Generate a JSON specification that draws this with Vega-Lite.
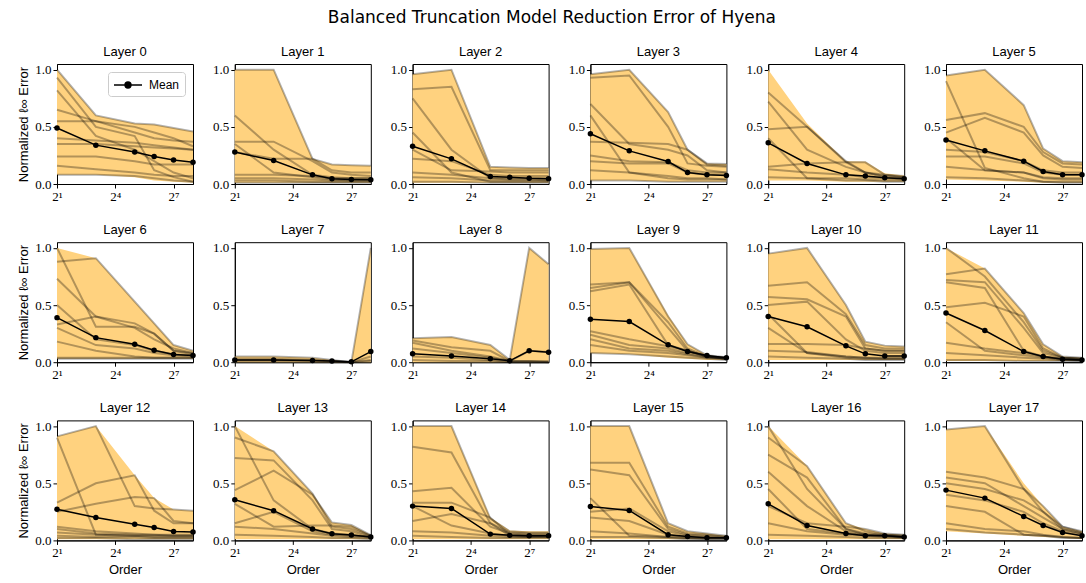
{
"$schema": "https://vega.github.io/schema/vega-lite/v6.json",
"title": {"text": "Balanced Truncation Model Reduction Error of Hyena", "font": "DejaVu Sans", "fontSize": 17, "fontWeight": "normal", "anchor": "middle", "offset": 18, "color": "black"},
"padding": {"left": 17, "right": 0, "top": 9, "bottom": 0},
"data": {"values": [
{"L":0,"k":0,"o":2,"v":1,"v2":0.08},{"L":0,"k":0,"o":8,"v":0.6,"v2":0.08},{"L":0,"k":0,"o":32,"v":0.53,"v2":0.06},{"L":0,"k":0,"o":64,"v":0.52,"v2":0.03},{"L":0,"k":0,"o":128,"v":0.49,"v2":0.02},{"L":0,"k":0,"o":256,"v":0.46,"v2":0.01},
{"L":0,"k":-1,"o":2,"v":0.49},{"L":0,"k":-1,"o":8,"v":0.34},{"L":0,"k":-1,"o":32,"v":0.28},{"L":0,"k":-1,"o":64,"v":0.24},{"L":0,"k":-1,"o":128,"v":0.21},{"L":0,"k":-1,"o":256,"v":0.19},
{"L":0,"k":1,"o":2,"v":1},{"L":0,"k":1,"o":8,"v":0.6},{"L":0,"k":1,"o":32,"v":0.53},{"L":0,"k":1,"o":64,"v":0.52},{"L":0,"k":1,"o":128,"v":0.49},{"L":0,"k":1,"o":256,"v":0.46},
{"L":0,"k":2,"o":2,"v":0.93},{"L":0,"k":2,"o":8,"v":0.5},{"L":0,"k":2,"o":32,"v":0.42},{"L":0,"k":2,"o":64,"v":0.12},{"L":0,"k":2,"o":128,"v":0.06},{"L":0,"k":2,"o":256,"v":0.02},
{"L":0,"k":3,"o":2,"v":0.82},{"L":0,"k":3,"o":8,"v":0.42},{"L":0,"k":3,"o":32,"v":0.3},{"L":0,"k":3,"o":64,"v":0.2},{"L":0,"k":3,"o":128,"v":0.1},{"L":0,"k":3,"o":256,"v":0.05},
{"L":0,"k":4,"o":2,"v":0.65},{"L":0,"k":4,"o":8,"v":0.55},{"L":0,"k":4,"o":32,"v":0.45},{"L":0,"k":4,"o":64,"v":0.4},{"L":0,"k":4,"o":128,"v":0.38},{"L":0,"k":4,"o":256,"v":0.37},
{"L":0,"k":5,"o":2,"v":0.55},{"L":0,"k":5,"o":8,"v":0.55},{"L":0,"k":5,"o":32,"v":0.5},{"L":0,"k":5,"o":64,"v":0.45},{"L":0,"k":5,"o":128,"v":0.4},{"L":0,"k":5,"o":256,"v":0.33},
{"L":0,"k":6,"o":2,"v":0.4},{"L":0,"k":6,"o":8,"v":0.38},{"L":0,"k":6,"o":32,"v":0.36},{"L":0,"k":6,"o":64,"v":0.34},{"L":0,"k":6,"o":128,"v":0.32},{"L":0,"k":6,"o":256,"v":0.3},
{"L":0,"k":7,"o":2,"v":0.35},{"L":0,"k":7,"o":8,"v":0.35},{"L":0,"k":7,"o":32,"v":0.33},{"L":0,"k":7,"o":64,"v":0.32},{"L":0,"k":7,"o":128,"v":0.31},{"L":0,"k":7,"o":256,"v":0.3},
{"L":0,"k":8,"o":2,"v":0.24},{"L":0,"k":8,"o":8,"v":0.24},{"L":0,"k":8,"o":32,"v":0.2},{"L":0,"k":8,"o":64,"v":0.17},{"L":0,"k":8,"o":128,"v":0.17},{"L":0,"k":8,"o":256,"v":0.17},
{"L":0,"k":9,"o":2,"v":0.16},{"L":0,"k":9,"o":8,"v":0.13},{"L":0,"k":9,"o":32,"v":0.1},{"L":0,"k":9,"o":64,"v":0.08},{"L":0,"k":9,"o":128,"v":0.07},{"L":0,"k":9,"o":256,"v":0.07},
{"L":0,"k":10,"o":2,"v":0.08},{"L":0,"k":10,"o":8,"v":0.08},{"L":0,"k":10,"o":32,"v":0.07},{"L":0,"k":10,"o":64,"v":0.05},{"L":0,"k":10,"o":128,"v":0.03},{"L":0,"k":10,"o":256,"v":0.02},

{"L":1,"k":0,"o":2,"v":1,"v2":0.01},{"L":1,"k":0,"o":8,"v":1,"v2":0.01},{"L":1,"k":0,"o":32,"v":0.22,"v2":0.01},{"L":1,"k":0,"o":64,"v":0.17,"v2":0.01},{"L":1,"k":0,"o":128,"v":0.165,"v2":0.01},{"L":1,"k":0,"o":256,"v":0.16,"v2":0.01},
{"L":1,"k":-1,"o":2,"v":0.28},{"L":1,"k":-1,"o":8,"v":0.205},{"L":1,"k":-1,"o":32,"v":0.08},{"L":1,"k":-1,"o":64,"v":0.046},{"L":1,"k":-1,"o":128,"v":0.04},{"L":1,"k":-1,"o":256,"v":0.037},
{"L":1,"k":1,"o":2,"v":1},{"L":1,"k":1,"o":8,"v":1},{"L":1,"k":1,"o":32,"v":0.22},{"L":1,"k":1,"o":64,"v":0.17},{"L":1,"k":1,"o":128,"v":0.165},{"L":1,"k":1,"o":256,"v":0.16},
{"L":1,"k":2,"o":2,"v":0.6},{"L":1,"k":2,"o":8,"v":0.3},{"L":1,"k":2,"o":32,"v":0.08},{"L":1,"k":2,"o":64,"v":0.06},{"L":1,"k":2,"o":128,"v":0.05},{"L":1,"k":2,"o":256,"v":0.05},
{"L":1,"k":3,"o":2,"v":0.37},{"L":1,"k":3,"o":8,"v":0.37},{"L":1,"k":3,"o":32,"v":0.2},{"L":1,"k":3,"o":64,"v":0.1},{"L":1,"k":3,"o":128,"v":0.08},{"L":1,"k":3,"o":256,"v":0.07},
{"L":1,"k":4,"o":2,"v":0.35},{"L":1,"k":4,"o":8,"v":0.1},{"L":1,"k":4,"o":32,"v":0.06},{"L":1,"k":4,"o":64,"v":0.04},{"L":1,"k":4,"o":128,"v":0.03},{"L":1,"k":4,"o":256,"v":0.03},
{"L":1,"k":5,"o":2,"v":0.28},{"L":1,"k":5,"o":8,"v":0.22},{"L":1,"k":5,"o":32,"v":0.22},{"L":1,"k":5,"o":64,"v":0.12},{"L":1,"k":5,"o":128,"v":0.1},{"L":1,"k":5,"o":256,"v":0.1},
{"L":1,"k":6,"o":2,"v":0.08},{"L":1,"k":6,"o":8,"v":0.08},{"L":1,"k":6,"o":32,"v":0.07},{"L":1,"k":6,"o":64,"v":0.05},{"L":1,"k":6,"o":128,"v":0.05},{"L":1,"k":6,"o":256,"v":0.05},
{"L":1,"k":7,"o":2,"v":0.05},{"L":1,"k":7,"o":8,"v":0.05},{"L":1,"k":7,"o":32,"v":0.04},{"L":1,"k":7,"o":64,"v":0.03},{"L":1,"k":7,"o":128,"v":0.03},{"L":1,"k":7,"o":256,"v":0.03},
{"L":1,"k":8,"o":2,"v":0.03},{"L":1,"k":8,"o":8,"v":0.03},{"L":1,"k":8,"o":32,"v":0.02},{"L":1,"k":8,"o":64,"v":0.02},{"L":1,"k":8,"o":128,"v":0.02},{"L":1,"k":8,"o":256,"v":0.02},
{"L":1,"k":9,"o":2,"v":0.01},{"L":1,"k":9,"o":8,"v":0.01},{"L":1,"k":9,"o":32,"v":0.01},{"L":1,"k":9,"o":64,"v":0.01},{"L":1,"k":9,"o":128,"v":0.01},{"L":1,"k":9,"o":256,"v":0.01},

{"L":2,"k":0,"o":2,"v":0.96,"v2":0.01},{"L":2,"k":0,"o":8,"v":1,"v2":0.01},{"L":2,"k":0,"o":32,"v":0.15,"v2":0.01},{"L":2,"k":0,"o":64,"v":0.145,"v2":0.01},{"L":2,"k":0,"o":128,"v":0.14,"v2":0.01},{"L":2,"k":0,"o":256,"v":0.14,"v2":0.01},
{"L":2,"k":-1,"o":2,"v":0.33},{"L":2,"k":-1,"o":8,"v":0.22},{"L":2,"k":-1,"o":32,"v":0.066},{"L":2,"k":-1,"o":64,"v":0.06},{"L":2,"k":-1,"o":128,"v":0.05},{"L":2,"k":-1,"o":256,"v":0.047},
{"L":2,"k":1,"o":2,"v":0.96},{"L":2,"k":1,"o":8,"v":1},{"L":2,"k":1,"o":32,"v":0.15},{"L":2,"k":1,"o":64,"v":0.145},{"L":2,"k":1,"o":128,"v":0.14},{"L":2,"k":1,"o":256,"v":0.14},
{"L":2,"k":2,"o":2,"v":0.83},{"L":2,"k":2,"o":8,"v":0.85},{"L":2,"k":2,"o":32,"v":0.12},{"L":2,"k":2,"o":64,"v":0.12},{"L":2,"k":2,"o":128,"v":0.12},{"L":2,"k":2,"o":256,"v":0.12},
{"L":2,"k":3,"o":2,"v":0.75},{"L":2,"k":3,"o":8,"v":0.3},{"L":2,"k":3,"o":32,"v":0.05},{"L":2,"k":3,"o":64,"v":0.04},{"L":2,"k":3,"o":128,"v":0.04},{"L":2,"k":3,"o":256,"v":0.03},
{"L":2,"k":4,"o":2,"v":0.45},{"L":2,"k":4,"o":8,"v":0.1},{"L":2,"k":4,"o":32,"v":0.02},{"L":2,"k":4,"o":64,"v":0.02},{"L":2,"k":4,"o":128,"v":0.02},{"L":2,"k":4,"o":256,"v":0.02},
{"L":2,"k":5,"o":2,"v":0.3},{"L":2,"k":5,"o":8,"v":0.12},{"L":2,"k":5,"o":32,"v":0.11},{"L":2,"k":5,"o":64,"v":0.1},{"L":2,"k":5,"o":128,"v":0.1},{"L":2,"k":5,"o":256,"v":0.1},
{"L":2,"k":6,"o":2,"v":0.22},{"L":2,"k":6,"o":8,"v":0.2},{"L":2,"k":6,"o":32,"v":0.08},{"L":2,"k":6,"o":64,"v":0.07},{"L":2,"k":6,"o":128,"v":0.07},{"L":2,"k":6,"o":256,"v":0.07},
{"L":2,"k":7,"o":2,"v":0.1},{"L":2,"k":7,"o":8,"v":0.08},{"L":2,"k":7,"o":32,"v":0.05},{"L":2,"k":7,"o":64,"v":0.05},{"L":2,"k":7,"o":128,"v":0.05},{"L":2,"k":7,"o":256,"v":0.05},
{"L":2,"k":8,"o":2,"v":0.06},{"L":2,"k":8,"o":8,"v":0.05},{"L":2,"k":8,"o":32,"v":0.03},{"L":2,"k":8,"o":64,"v":0.03},{"L":2,"k":8,"o":128,"v":0.03},{"L":2,"k":8,"o":256,"v":0.03},
{"L":2,"k":9,"o":2,"v":0.02},{"L":2,"k":9,"o":8,"v":0.02},{"L":2,"k":9,"o":32,"v":0.01},{"L":2,"k":9,"o":64,"v":0.01},{"L":2,"k":9,"o":128,"v":0.01},{"L":2,"k":9,"o":256,"v":0.01},

{"L":3,"k":0,"o":2,"v":0.96,"v2":0.03},{"L":3,"k":0,"o":8,"v":1,"v2":0.03},{"L":3,"k":0,"o":32,"v":0.63,"v2":0.02},{"L":3,"k":0,"o":64,"v":0.3,"v2":0.02},{"L":3,"k":0,"o":128,"v":0.18,"v2":0.02},{"L":3,"k":0,"o":256,"v":0.175,"v2":0.02},
{"L":3,"k":-1,"o":2,"v":0.44},{"L":3,"k":-1,"o":8,"v":0.29},{"L":3,"k":-1,"o":32,"v":0.197},{"L":3,"k":-1,"o":64,"v":0.1},{"L":3,"k":-1,"o":128,"v":0.08},{"L":3,"k":-1,"o":256,"v":0.075},
{"L":3,"k":1,"o":2,"v":0.96},{"L":3,"k":1,"o":8,"v":1},{"L":3,"k":1,"o":32,"v":0.63},{"L":3,"k":1,"o":64,"v":0.3},{"L":3,"k":1,"o":128,"v":0.18},{"L":3,"k":1,"o":256,"v":0.175},
{"L":3,"k":2,"o":2,"v":0.93},{"L":3,"k":2,"o":8,"v":0.95},{"L":3,"k":2,"o":32,"v":0.5},{"L":3,"k":2,"o":64,"v":0.18},{"L":3,"k":2,"o":128,"v":0.16},{"L":3,"k":2,"o":256,"v":0.15},
{"L":3,"k":3,"o":2,"v":0.7},{"L":3,"k":3,"o":8,"v":0.35},{"L":3,"k":3,"o":32,"v":0.3},{"L":3,"k":3,"o":64,"v":0.25},{"L":3,"k":3,"o":128,"v":0.12},{"L":3,"k":3,"o":256,"v":0.1},
{"L":3,"k":4,"o":2,"v":0.6},{"L":3,"k":4,"o":8,"v":0.1},{"L":3,"k":4,"o":32,"v":0.07},{"L":3,"k":4,"o":64,"v":0.05},{"L":3,"k":4,"o":128,"v":0.05},{"L":3,"k":4,"o":256,"v":0.04},
{"L":3,"k":5,"o":2,"v":0.37},{"L":3,"k":5,"o":8,"v":0.36},{"L":3,"k":5,"o":32,"v":0.35},{"L":3,"k":5,"o":64,"v":0.3},{"L":3,"k":5,"o":128,"v":0.17},{"L":3,"k":5,"o":256,"v":0.16},
{"L":3,"k":6,"o":2,"v":0.25},{"L":3,"k":6,"o":8,"v":0.2},{"L":3,"k":6,"o":32,"v":0.19},{"L":3,"k":6,"o":64,"v":0.12},{"L":3,"k":6,"o":128,"v":0.1},{"L":3,"k":6,"o":256,"v":0.1},
{"L":3,"k":7,"o":2,"v":0.2},{"L":3,"k":7,"o":8,"v":0.18},{"L":3,"k":7,"o":32,"v":0.18},{"L":3,"k":7,"o":64,"v":0.1},{"L":3,"k":7,"o":128,"v":0.08},{"L":3,"k":7,"o":256,"v":0.08},
{"L":3,"k":8,"o":2,"v":0.12},{"L":3,"k":8,"o":8,"v":0.1},{"L":3,"k":8,"o":32,"v":0.05},{"L":3,"k":8,"o":64,"v":0.04},{"L":3,"k":8,"o":128,"v":0.04},{"L":3,"k":8,"o":256,"v":0.04},
{"L":3,"k":9,"o":2,"v":0.03},{"L":3,"k":9,"o":8,"v":0.03},{"L":3,"k":9,"o":32,"v":0.02},{"L":3,"k":9,"o":64,"v":0.02},{"L":3,"k":9,"o":128,"v":0.02},{"L":3,"k":9,"o":256,"v":0.02},

{"L":4,"k":0,"o":2,"v":1,"v2":0.03},{"L":4,"k":0,"o":8,"v":0.53,"v2":0.03},{"L":4,"k":0,"o":32,"v":0.2,"v2":0.02},{"L":4,"k":0,"o":64,"v":0.197,"v2":0.02},{"L":4,"k":0,"o":128,"v":0.095,"v2":0.02},{"L":4,"k":0,"o":256,"v":0.075,"v2":0.02},
{"L":4,"k":-1,"o":2,"v":0.36},{"L":4,"k":-1,"o":8,"v":0.18},{"L":4,"k":-1,"o":32,"v":0.08},{"L":4,"k":-1,"o":64,"v":0.07},{"L":4,"k":-1,"o":128,"v":0.055},{"L":4,"k":-1,"o":256,"v":0.046},
{"L":4,"k":1,"o":2,"v":0.8},{"L":4,"k":1,"o":8,"v":0.5},{"L":4,"k":1,"o":32,"v":0.2},{"L":4,"k":1,"o":64,"v":0.1},{"L":4,"k":1,"o":128,"v":0.06},{"L":4,"k":1,"o":256,"v":0.05},
{"L":4,"k":2,"o":2,"v":0.72},{"L":4,"k":2,"o":8,"v":0.3},{"L":4,"k":2,"o":32,"v":0.15},{"L":4,"k":2,"o":64,"v":0.1},{"L":4,"k":2,"o":128,"v":0.08},{"L":4,"k":2,"o":256,"v":0.06},
{"L":4,"k":3,"o":2,"v":0.48},{"L":4,"k":3,"o":8,"v":0.5},{"L":4,"k":3,"o":32,"v":0.19},{"L":4,"k":3,"o":64,"v":0.1},{"L":4,"k":3,"o":128,"v":0.07},{"L":4,"k":3,"o":256,"v":0.06},
{"L":4,"k":4,"o":2,"v":0.15},{"L":4,"k":4,"o":8,"v":0.18},{"L":4,"k":4,"o":32,"v":0.19},{"L":4,"k":4,"o":64,"v":0.19},{"L":4,"k":4,"o":128,"v":0.08},{"L":4,"k":4,"o":256,"v":0.07},
{"L":4,"k":5,"o":2,"v":0.13},{"L":4,"k":5,"o":8,"v":0.1},{"L":4,"k":5,"o":32,"v":0.08},{"L":4,"k":5,"o":64,"v":0.06},{"L":4,"k":5,"o":128,"v":0.05},{"L":4,"k":5,"o":256,"v":0.04},
{"L":4,"k":6,"o":2,"v":0.06},{"L":4,"k":6,"o":8,"v":0.05},{"L":4,"k":6,"o":32,"v":0.05},{"L":4,"k":6,"o":64,"v":0.04},{"L":4,"k":6,"o":128,"v":0.03},{"L":4,"k":6,"o":256,"v":0.03},
{"L":4,"k":7,"o":2,"v":0.4},{"L":4,"k":7,"o":8,"v":0.05},{"L":4,"k":7,"o":32,"v":0.03},{"L":4,"k":7,"o":64,"v":0.03},{"L":4,"k":7,"o":128,"v":0.02},{"L":4,"k":7,"o":256,"v":0.02},

{"L":5,"k":0,"o":2,"v":0.95,"v2":0.04},{"L":5,"k":0,"o":8,"v":1,"v2":0.03},{"L":5,"k":0,"o":32,"v":0.69,"v2":0.02},{"L":5,"k":0,"o":64,"v":0.31,"v2":0.01},{"L":5,"k":0,"o":128,"v":0.2,"v2":0.01},{"L":5,"k":0,"o":256,"v":0.19,"v2":0.01},
{"L":5,"k":-1,"o":2,"v":0.385},{"L":5,"k":-1,"o":8,"v":0.29},{"L":5,"k":-1,"o":32,"v":0.2},{"L":5,"k":-1,"o":64,"v":0.11},{"L":5,"k":-1,"o":128,"v":0.08},{"L":5,"k":-1,"o":256,"v":0.08},
{"L":5,"k":1,"o":2,"v":0.95},{"L":5,"k":1,"o":8,"v":1},{"L":5,"k":1,"o":32,"v":0.69},{"L":5,"k":1,"o":64,"v":0.31},{"L":5,"k":1,"o":128,"v":0.2},{"L":5,"k":1,"o":256,"v":0.19},
{"L":5,"k":2,"o":2,"v":0.56},{"L":5,"k":2,"o":8,"v":0.62},{"L":5,"k":2,"o":32,"v":0.5},{"L":5,"k":2,"o":64,"v":0.28},{"L":5,"k":2,"o":128,"v":0.18},{"L":5,"k":2,"o":256,"v":0.17},
{"L":5,"k":3,"o":2,"v":0.45},{"L":5,"k":3,"o":8,"v":0.58},{"L":5,"k":3,"o":32,"v":0.45},{"L":5,"k":3,"o":64,"v":0.25},{"L":5,"k":3,"o":128,"v":0.15},{"L":5,"k":3,"o":256,"v":0.14},
{"L":5,"k":4,"o":2,"v":0.4},{"L":5,"k":4,"o":8,"v":0.12},{"L":5,"k":4,"o":32,"v":0.1},{"L":5,"k":4,"o":64,"v":0.05},{"L":5,"k":4,"o":128,"v":0.04},{"L":5,"k":4,"o":256,"v":0.04},
{"L":5,"k":5,"o":2,"v":0.3},{"L":5,"k":5,"o":8,"v":0.28},{"L":5,"k":5,"o":32,"v":0.2},{"L":5,"k":5,"o":64,"v":0.12},{"L":5,"k":5,"o":128,"v":0.1},{"L":5,"k":5,"o":256,"v":0.1},
{"L":5,"k":6,"o":2,"v":0.24},{"L":5,"k":6,"o":8,"v":0.24},{"L":5,"k":6,"o":32,"v":0.18},{"L":5,"k":6,"o":64,"v":0.1},{"L":5,"k":6,"o":128,"v":0.08},{"L":5,"k":6,"o":256,"v":0.08},
{"L":5,"k":7,"o":2,"v":0.15},{"L":5,"k":7,"o":8,"v":0.12},{"L":5,"k":7,"o":32,"v":0.1},{"L":5,"k":7,"o":64,"v":0.06},{"L":5,"k":7,"o":128,"v":0.05},{"L":5,"k":7,"o":256,"v":0.05},
{"L":5,"k":8,"o":2,"v":0.06},{"L":5,"k":8,"o":8,"v":0.05},{"L":5,"k":8,"o":32,"v":0.03},{"L":5,"k":8,"o":64,"v":0.02},{"L":5,"k":8,"o":128,"v":0.02},{"L":5,"k":8,"o":256,"v":0.02},
{"L":5,"k":9,"o":2,"v":0.9},{"L":5,"k":9,"o":8,"v":0.14},{"L":5,"k":9,"o":32,"v":0.05},{"L":5,"k":9,"o":64,"v":0.02},{"L":5,"k":9,"o":128,"v":0.01},{"L":5,"k":9,"o":256,"v":0.01},

{"L":6,"k":0,"o":2,"v":1,"v2":0.03},{"L":6,"k":0,"o":8,"v":0.91,"v2":0.03},{"L":6,"k":0,"o":32,"v":0.53,"v2":0.03},{"L":6,"k":0,"o":64,"v":0.34,"v2":0.03},{"L":6,"k":0,"o":128,"v":0.15,"v2":0.03},{"L":6,"k":0,"o":256,"v":0.1,"v2":0.03},
{"L":6,"k":-1,"o":2,"v":0.39},{"L":6,"k":-1,"o":8,"v":0.215},{"L":6,"k":-1,"o":32,"v":0.157},{"L":6,"k":-1,"o":64,"v":0.105},{"L":6,"k":-1,"o":128,"v":0.067},{"L":6,"k":-1,"o":256,"v":0.058},
{"L":6,"k":1,"o":2,"v":0.88},{"L":6,"k":1,"o":8,"v":0.91},{"L":6,"k":1,"o":32,"v":0.53},{"L":6,"k":1,"o":64,"v":0.34},{"L":6,"k":1,"o":128,"v":0.15},{"L":6,"k":1,"o":256,"v":0.1},
{"L":6,"k":2,"o":2,"v":1},{"L":6,"k":2,"o":8,"v":0.31},{"L":6,"k":2,"o":32,"v":0.31},{"L":6,"k":2,"o":64,"v":0.25},{"L":6,"k":2,"o":128,"v":0.1},{"L":6,"k":2,"o":256,"v":0.08},
{"L":6,"k":3,"o":2,"v":0.73},{"L":6,"k":3,"o":8,"v":0.4},{"L":6,"k":3,"o":32,"v":0.3},{"L":6,"k":3,"o":64,"v":0.2},{"L":6,"k":3,"o":128,"v":0.12},{"L":6,"k":3,"o":256,"v":0.08},
{"L":6,"k":4,"o":2,"v":0.5},{"L":6,"k":4,"o":8,"v":0.2},{"L":6,"k":4,"o":32,"v":0.15},{"L":6,"k":4,"o":64,"v":0.1},{"L":6,"k":4,"o":128,"v":0.07},{"L":6,"k":4,"o":256,"v":0.06},
{"L":6,"k":5,"o":2,"v":0.33},{"L":6,"k":5,"o":8,"v":0.4},{"L":6,"k":5,"o":32,"v":0.34},{"L":6,"k":5,"o":64,"v":0.25},{"L":6,"k":5,"o":128,"v":0.1},{"L":6,"k":5,"o":256,"v":0.07},
{"L":6,"k":6,"o":2,"v":0.3},{"L":6,"k":6,"o":8,"v":0.15},{"L":6,"k":6,"o":32,"v":0.12},{"L":6,"k":6,"o":64,"v":0.08},{"L":6,"k":6,"o":128,"v":0.06},{"L":6,"k":6,"o":256,"v":0.05},
{"L":6,"k":7,"o":2,"v":0.18},{"L":6,"k":7,"o":8,"v":0.1},{"L":6,"k":7,"o":32,"v":0.05},{"L":6,"k":7,"o":64,"v":0.04},{"L":6,"k":7,"o":128,"v":0.04},{"L":6,"k":7,"o":256,"v":0.04},
{"L":6,"k":8,"o":2,"v":0.04},{"L":6,"k":8,"o":8,"v":0.04},{"L":6,"k":8,"o":32,"v":0.04},{"L":6,"k":8,"o":64,"v":0.04},{"L":6,"k":8,"o":128,"v":0.04},{"L":6,"k":8,"o":256,"v":0.04},
{"L":6,"k":9,"o":2,"v":0.03},{"L":6,"k":9,"o":8,"v":0.03},{"L":6,"k":9,"o":32,"v":0.03},{"L":6,"k":9,"o":64,"v":0.03},{"L":6,"k":9,"o":128,"v":0.03},{"L":6,"k":9,"o":256,"v":0.03},

{"L":7,"k":0,"o":2,"v":0.05,"v2":0},{"L":7,"k":0,"o":8,"v":0.05,"v2":0},{"L":7,"k":0,"o":32,"v":0.04,"v2":0},{"L":7,"k":0,"o":64,"v":0.02,"v2":0},{"L":7,"k":0,"o":128,"v":0.0,"v2":0},{"L":7,"k":0,"o":256,"v":1,"v2":0},
{"L":7,"k":-1,"o":2,"v":0.02},{"L":7,"k":-1,"o":8,"v":0.02},{"L":7,"k":-1,"o":32,"v":0.015},{"L":7,"k":-1,"o":64,"v":0.01},{"L":7,"k":-1,"o":128,"v":0.003},{"L":7,"k":-1,"o":256,"v":0.093},
{"L":7,"k":1,"o":2,"v":0.05},{"L":7,"k":1,"o":8,"v":0.05},{"L":7,"k":1,"o":32,"v":0.04},{"L":7,"k":1,"o":64,"v":0.02},{"L":7,"k":1,"o":128,"v":0.0},{"L":7,"k":1,"o":256,"v":1},
{"L":7,"k":2,"o":2,"v":0.03},{"L":7,"k":2,"o":8,"v":0.03},{"L":7,"k":2,"o":32,"v":0.02},{"L":7,"k":2,"o":64,"v":0.01},{"L":7,"k":2,"o":128,"v":0.0},{"L":7,"k":2,"o":256,"v":0.05},
{"L":7,"k":3,"o":2,"v":0.02},{"L":7,"k":3,"o":8,"v":0.02},{"L":7,"k":3,"o":32,"v":0.015},{"L":7,"k":3,"o":64,"v":0.01},{"L":7,"k":3,"o":128,"v":0.0},{"L":7,"k":3,"o":256,"v":0.02},
{"L":7,"k":4,"o":2,"v":0.01},{"L":7,"k":4,"o":8,"v":0.01},{"L":7,"k":4,"o":32,"v":0.01},{"L":7,"k":4,"o":64,"v":0.005},{"L":7,"k":4,"o":128,"v":0.0},{"L":7,"k":4,"o":256,"v":0.01},

{"L":8,"k":0,"o":2,"v":0.21,"v2":0},{"L":8,"k":0,"o":8,"v":0.22,"v2":0},{"L":8,"k":0,"o":32,"v":0.15,"v2":0},{"L":8,"k":0,"o":64,"v":0.02,"v2":0},{"L":8,"k":0,"o":128,"v":1,"v2":0},{"L":8,"k":0,"o":256,"v":0.857,"v2":0},
{"L":8,"k":-1,"o":2,"v":0.073},{"L":8,"k":-1,"o":8,"v":0.055},{"L":8,"k":-1,"o":32,"v":0.03},{"L":8,"k":-1,"o":64,"v":0.012},{"L":8,"k":-1,"o":128,"v":0.1},{"L":8,"k":-1,"o":256,"v":0.087},
{"L":8,"k":1,"o":2,"v":0.21},{"L":8,"k":1,"o":8,"v":0.22},{"L":8,"k":1,"o":32,"v":0.15},{"L":8,"k":1,"o":64,"v":0.02},{"L":8,"k":1,"o":128,"v":1},{"L":8,"k":1,"o":256,"v":0.857},
{"L":8,"k":2,"o":2,"v":0.19},{"L":8,"k":2,"o":8,"v":0.13},{"L":8,"k":2,"o":32,"v":0.1},{"L":8,"k":2,"o":64,"v":0.01},{"L":8,"k":2,"o":128,"v":0.1},{"L":8,"k":2,"o":256,"v":0.09},
{"L":8,"k":3,"o":2,"v":0.17},{"L":8,"k":3,"o":8,"v":0.1},{"L":8,"k":3,"o":32,"v":0.05},{"L":8,"k":3,"o":64,"v":0.01},{"L":8,"k":3,"o":128,"v":0.01},{"L":8,"k":3,"o":256,"v":0.01},
{"L":8,"k":4,"o":2,"v":0.12},{"L":8,"k":4,"o":8,"v":0.08},{"L":8,"k":4,"o":32,"v":0.04},{"L":8,"k":4,"o":64,"v":0.01},{"L":8,"k":4,"o":128,"v":0.01},{"L":8,"k":4,"o":256,"v":0.0},
{"L":8,"k":5,"o":2,"v":0.05},{"L":8,"k":5,"o":8,"v":0.04},{"L":8,"k":5,"o":32,"v":0.02},{"L":8,"k":5,"o":64,"v":0.0},{"L":8,"k":5,"o":128,"v":0.0},{"L":8,"k":5,"o":256,"v":0.0},
{"L":8,"k":6,"o":2,"v":0.02},{"L":8,"k":6,"o":8,"v":0.01},{"L":8,"k":6,"o":32,"v":0.01},{"L":8,"k":6,"o":64,"v":0.0},{"L":8,"k":6,"o":128,"v":0.0},{"L":8,"k":6,"o":256,"v":0.0},

{"L":9,"k":0,"o":2,"v":0.99,"v2":0.078},{"L":9,"k":0,"o":8,"v":1,"v2":0.07},{"L":9,"k":0,"o":32,"v":0.41,"v2":0.04},{"L":9,"k":0,"o":64,"v":0.157,"v2":0.03},{"L":9,"k":0,"o":128,"v":0.06,"v2":0.02},{"L":9,"k":0,"o":256,"v":0.044,"v2":0.02},
{"L":9,"k":-1,"o":2,"v":0.376},{"L":9,"k":-1,"o":8,"v":0.356},{"L":9,"k":-1,"o":32,"v":0.152},{"L":9,"k":-1,"o":64,"v":0.093},{"L":9,"k":-1,"o":128,"v":0.058},{"L":9,"k":-1,"o":256,"v":0.04},
{"L":9,"k":1,"o":2,"v":0.99},{"L":9,"k":1,"o":8,"v":1},{"L":9,"k":1,"o":32,"v":0.4},{"L":9,"k":1,"o":64,"v":0.157},{"L":9,"k":1,"o":128,"v":0.06},{"L":9,"k":1,"o":256,"v":0.044},
{"L":9,"k":2,"o":2,"v":0.68},{"L":9,"k":2,"o":8,"v":0.7},{"L":9,"k":2,"o":32,"v":0.35},{"L":9,"k":2,"o":64,"v":0.12},{"L":9,"k":2,"o":128,"v":0.05},{"L":9,"k":2,"o":256,"v":0.04},
{"L":9,"k":3,"o":2,"v":0.65},{"L":9,"k":3,"o":8,"v":0.7},{"L":9,"k":3,"o":32,"v":0.3},{"L":9,"k":3,"o":64,"v":0.1},{"L":9,"k":3,"o":128,"v":0.05},{"L":9,"k":3,"o":256,"v":0.04},
{"L":9,"k":4,"o":2,"v":0.62},{"L":9,"k":4,"o":8,"v":0.68},{"L":9,"k":4,"o":32,"v":0.15},{"L":9,"k":4,"o":64,"v":0.1},{"L":9,"k":4,"o":128,"v":0.05},{"L":9,"k":4,"o":256,"v":0.03},
{"L":9,"k":5,"o":2,"v":0.27},{"L":9,"k":5,"o":8,"v":0.2},{"L":9,"k":5,"o":32,"v":0.14},{"L":9,"k":5,"o":64,"v":0.1},{"L":9,"k":5,"o":128,"v":0.05},{"L":9,"k":5,"o":256,"v":0.03},
{"L":9,"k":6,"o":2,"v":0.24},{"L":9,"k":6,"o":8,"v":0.15},{"L":9,"k":6,"o":32,"v":0.12},{"L":9,"k":6,"o":64,"v":0.08},{"L":9,"k":6,"o":128,"v":0.05},{"L":9,"k":6,"o":256,"v":0.03},
{"L":9,"k":7,"o":2,"v":0.2},{"L":9,"k":7,"o":8,"v":0.12},{"L":9,"k":7,"o":32,"v":0.1},{"L":9,"k":7,"o":64,"v":0.07},{"L":9,"k":7,"o":128,"v":0.04},{"L":9,"k":7,"o":256,"v":0.03},
{"L":9,"k":8,"o":2,"v":0.15},{"L":9,"k":8,"o":8,"v":0.1},{"L":9,"k":8,"o":32,"v":0.08},{"L":9,"k":8,"o":64,"v":0.06},{"L":9,"k":8,"o":128,"v":0.04},{"L":9,"k":8,"o":256,"v":0.03},
{"L":9,"k":9,"o":2,"v":0.08},{"L":9,"k":9,"o":8,"v":0.07},{"L":9,"k":9,"o":32,"v":0.05},{"L":9,"k":9,"o":64,"v":0.04},{"L":9,"k":9,"o":128,"v":0.03},{"L":9,"k":9,"o":256,"v":0.02},

{"L":10,"k":0,"o":2,"v":0.95,"v2":0.02},{"L":10,"k":0,"o":8,"v":1,"v2":0.02},{"L":10,"k":0,"o":32,"v":0.5,"v2":0.02},{"L":10,"k":0,"o":64,"v":0.18,"v2":0.02},{"L":10,"k":0,"o":128,"v":0.145,"v2":0.02},{"L":10,"k":0,"o":256,"v":0.137,"v2":0.02},
{"L":10,"k":-1,"o":2,"v":0.4},{"L":10,"k":-1,"o":8,"v":0.31},{"L":10,"k":-1,"o":32,"v":0.143},{"L":10,"k":-1,"o":64,"v":0.073},{"L":10,"k":-1,"o":128,"v":0.055},{"L":10,"k":-1,"o":256,"v":0.055},
{"L":10,"k":1,"o":2,"v":0.95},{"L":10,"k":1,"o":8,"v":1},{"L":10,"k":1,"o":32,"v":0.5},{"L":10,"k":1,"o":64,"v":0.18},{"L":10,"k":1,"o":128,"v":0.145},{"L":10,"k":1,"o":256,"v":0.137},
{"L":10,"k":2,"o":2,"v":0.67},{"L":10,"k":2,"o":8,"v":0.7},{"L":10,"k":2,"o":32,"v":0.42},{"L":10,"k":2,"o":64,"v":0.15},{"L":10,"k":2,"o":128,"v":0.12},{"L":10,"k":2,"o":256,"v":0.12},
{"L":10,"k":3,"o":2,"v":0.57},{"L":10,"k":3,"o":8,"v":0.55},{"L":10,"k":3,"o":32,"v":0.4},{"L":10,"k":3,"o":64,"v":0.12},{"L":10,"k":3,"o":128,"v":0.1},{"L":10,"k":3,"o":256,"v":0.1},
{"L":10,"k":4,"o":2,"v":0.5},{"L":10,"k":4,"o":8,"v":0.53},{"L":10,"k":4,"o":32,"v":0.2},{"L":10,"k":4,"o":64,"v":0.1},{"L":10,"k":4,"o":128,"v":0.08},{"L":10,"k":4,"o":256,"v":0.08},
{"L":10,"k":5,"o":2,"v":0.42},{"L":10,"k":5,"o":8,"v":0.08},{"L":10,"k":5,"o":32,"v":0.05},{"L":10,"k":5,"o":64,"v":0.04},{"L":10,"k":5,"o":128,"v":0.03},{"L":10,"k":5,"o":256,"v":0.03},
{"L":10,"k":6,"o":2,"v":0.3},{"L":10,"k":6,"o":8,"v":0.08},{"L":10,"k":6,"o":32,"v":0.04},{"L":10,"k":6,"o":64,"v":0.03},{"L":10,"k":6,"o":128,"v":0.03},{"L":10,"k":6,"o":256,"v":0.03},
{"L":10,"k":7,"o":2,"v":0.16},{"L":10,"k":7,"o":8,"v":0.16},{"L":10,"k":7,"o":32,"v":0.15},{"L":10,"k":7,"o":64,"v":0.12},{"L":10,"k":7,"o":128,"v":0.1},{"L":10,"k":7,"o":256,"v":0.1},
{"L":10,"k":8,"o":2,"v":0.1},{"L":10,"k":8,"o":8,"v":0.09},{"L":10,"k":8,"o":32,"v":0.05},{"L":10,"k":8,"o":64,"v":0.04},{"L":10,"k":8,"o":128,"v":0.04},{"L":10,"k":8,"o":256,"v":0.04},
{"L":10,"k":9,"o":2,"v":0.05},{"L":10,"k":9,"o":8,"v":0.04},{"L":10,"k":9,"o":32,"v":0.03},{"L":10,"k":9,"o":64,"v":0.02},{"L":10,"k":9,"o":128,"v":0.02},{"L":10,"k":9,"o":256,"v":0.02},

{"L":11,"k":0,"o":2,"v":1,"v2":0.01},{"L":11,"k":0,"o":8,"v":0.82,"v2":0.01},{"L":11,"k":0,"o":32,"v":0.43,"v2":0.01},{"L":11,"k":0,"o":64,"v":0.157,"v2":0.01},{"L":11,"k":0,"o":128,"v":0.05,"v2":0.01},{"L":11,"k":0,"o":256,"v":0.04,"v2":0.01},
{"L":11,"k":-1,"o":2,"v":0.43},{"L":11,"k":-1,"o":8,"v":0.277},{"L":11,"k":-1,"o":32,"v":0.093},{"L":11,"k":-1,"o":64,"v":0.05},{"L":11,"k":-1,"o":128,"v":0.026},{"L":11,"k":-1,"o":256,"v":0.02},
{"L":11,"k":1,"o":2,"v":1},{"L":11,"k":1,"o":8,"v":0.75},{"L":11,"k":1,"o":32,"v":0.35},{"L":11,"k":1,"o":64,"v":0.1},{"L":11,"k":1,"o":128,"v":0.04},{"L":11,"k":1,"o":256,"v":0.03},
{"L":11,"k":2,"o":2,"v":0.77},{"L":11,"k":2,"o":8,"v":0.82},{"L":11,"k":2,"o":32,"v":0.43},{"L":11,"k":2,"o":64,"v":0.157},{"L":11,"k":2,"o":128,"v":0.05},{"L":11,"k":2,"o":256,"v":0.04},
{"L":11,"k":3,"o":2,"v":0.72},{"L":11,"k":3,"o":8,"v":0.7},{"L":11,"k":3,"o":32,"v":0.3},{"L":11,"k":3,"o":64,"v":0.08},{"L":11,"k":3,"o":128,"v":0.04},{"L":11,"k":3,"o":256,"v":0.03},
{"L":11,"k":4,"o":2,"v":0.7},{"L":11,"k":4,"o":8,"v":0.65},{"L":11,"k":4,"o":32,"v":0.1},{"L":11,"k":4,"o":64,"v":0.05},{"L":11,"k":4,"o":128,"v":0.03},{"L":11,"k":4,"o":256,"v":0.02},
{"L":11,"k":5,"o":2,"v":0.48},{"L":11,"k":5,"o":8,"v":0.52},{"L":11,"k":5,"o":32,"v":0.4},{"L":11,"k":5,"o":64,"v":0.12},{"L":11,"k":5,"o":128,"v":0.04},{"L":11,"k":5,"o":256,"v":0.03},
{"L":11,"k":6,"o":2,"v":0.35},{"L":11,"k":6,"o":8,"v":0.1},{"L":11,"k":6,"o":32,"v":0.06},{"L":11,"k":6,"o":64,"v":0.04},{"L":11,"k":6,"o":128,"v":0.02},{"L":11,"k":6,"o":256,"v":0.02},
{"L":11,"k":7,"o":2,"v":0.17},{"L":11,"k":7,"o":8,"v":0.12},{"L":11,"k":7,"o":32,"v":0.08},{"L":11,"k":7,"o":64,"v":0.05},{"L":11,"k":7,"o":128,"v":0.03},{"L":11,"k":7,"o":256,"v":0.02},
{"L":11,"k":8,"o":2,"v":0.08},{"L":11,"k":8,"o":8,"v":0.06},{"L":11,"k":8,"o":32,"v":0.04},{"L":11,"k":8,"o":64,"v":0.03},{"L":11,"k":8,"o":128,"v":0.02},{"L":11,"k":8,"o":256,"v":0.01},
{"L":11,"k":9,"o":2,"v":0.02},{"L":11,"k":9,"o":8,"v":0.02},{"L":11,"k":9,"o":32,"v":0.01},{"L":11,"k":9,"o":64,"v":0.01},{"L":11,"k":9,"o":128,"v":0.01},{"L":11,"k":9,"o":256,"v":0.01},

{"L":12,"k":0,"o":2,"v":0.91,"v2":0.01},{"L":12,"k":0,"o":8,"v":1,"v2":0.01},{"L":12,"k":0,"o":32,"v":0.57,"v2":0.01},{"L":12,"k":0,"o":64,"v":0.37,"v2":0.01},{"L":12,"k":0,"o":128,"v":0.27,"v2":0.01},{"L":12,"k":0,"o":256,"v":0.26,"v2":0.01},
{"L":12,"k":-1,"o":2,"v":0.273},{"L":12,"k":-1,"o":8,"v":0.2},{"L":12,"k":-1,"o":32,"v":0.142},{"L":12,"k":-1,"o":64,"v":0.113},{"L":12,"k":-1,"o":128,"v":0.078},{"L":12,"k":-1,"o":256,"v":0.073},
{"L":12,"k":1,"o":2,"v":0.91},{"L":12,"k":1,"o":8,"v":1},{"L":12,"k":1,"o":32,"v":0.3},{"L":12,"k":1,"o":64,"v":0.28},{"L":12,"k":1,"o":128,"v":0.27},{"L":12,"k":1,"o":256,"v":0.26},
{"L":12,"k":2,"o":2,"v":0.33},{"L":12,"k":2,"o":8,"v":0.5},{"L":12,"k":2,"o":32,"v":0.57},{"L":12,"k":2,"o":64,"v":0.26},{"L":12,"k":2,"o":128,"v":0.15},{"L":12,"k":2,"o":256,"v":0.15},
{"L":12,"k":3,"o":2,"v":0.25},{"L":12,"k":3,"o":8,"v":0.32},{"L":12,"k":3,"o":32,"v":0.38},{"L":12,"k":3,"o":64,"v":0.37},{"L":12,"k":3,"o":128,"v":0.17},{"L":12,"k":3,"o":256,"v":0.15},
{"L":12,"k":4,"o":2,"v":0.9},{"L":12,"k":4,"o":8,"v":0.05},{"L":12,"k":4,"o":32,"v":0.04},{"L":12,"k":4,"o":64,"v":0.04},{"L":12,"k":4,"o":128,"v":0.04},{"L":12,"k":4,"o":256,"v":0.04},
{"L":12,"k":5,"o":2,"v":0.12},{"L":12,"k":5,"o":8,"v":0.08},{"L":12,"k":5,"o":32,"v":0.06},{"L":12,"k":5,"o":64,"v":0.05},{"L":12,"k":5,"o":128,"v":0.05},{"L":12,"k":5,"o":256,"v":0.05},
{"L":12,"k":6,"o":2,"v":0.1},{"L":12,"k":6,"o":8,"v":0.06},{"L":12,"k":6,"o":32,"v":0.05},{"L":12,"k":6,"o":64,"v":0.05},{"L":12,"k":6,"o":128,"v":0.04},{"L":12,"k":6,"o":256,"v":0.04},
{"L":12,"k":7,"o":2,"v":0.07},{"L":12,"k":7,"o":8,"v":0.05},{"L":12,"k":7,"o":32,"v":0.04},{"L":12,"k":7,"o":64,"v":0.03},{"L":12,"k":7,"o":128,"v":0.03},{"L":12,"k":7,"o":256,"v":0.03},
{"L":12,"k":8,"o":2,"v":0.04},{"L":12,"k":8,"o":8,"v":0.03},{"L":12,"k":8,"o":32,"v":0.03},{"L":12,"k":8,"o":64,"v":0.02},{"L":12,"k":8,"o":128,"v":0.02},{"L":12,"k":8,"o":256,"v":0.02},
{"L":12,"k":9,"o":2,"v":0.02},{"L":12,"k":9,"o":8,"v":0.02},{"L":12,"k":9,"o":32,"v":0.01},{"L":12,"k":9,"o":64,"v":0.01},{"L":12,"k":9,"o":128,"v":0.01},{"L":12,"k":9,"o":256,"v":0.01},

{"L":13,"k":0,"o":2,"v":1,"v2":0.01},{"L":13,"k":0,"o":8,"v":0.78,"v2":0.01},{"L":13,"k":0,"o":32,"v":0.41,"v2":0.01},{"L":13,"k":0,"o":64,"v":0.157,"v2":0.01},{"L":13,"k":0,"o":128,"v":0.134,"v2":0.01},{"L":13,"k":0,"o":256,"v":0.047,"v2":0.01},
{"L":13,"k":-1,"o":2,"v":0.355},{"L":13,"k":-1,"o":8,"v":0.26},{"L":13,"k":-1,"o":32,"v":0.1},{"L":13,"k":-1,"o":64,"v":0.058},{"L":13,"k":-1,"o":128,"v":0.047},{"L":13,"k":-1,"o":256,"v":0.03},
{"L":13,"k":1,"o":2,"v":1},{"L":13,"k":1,"o":8,"v":0.35},{"L":13,"k":1,"o":32,"v":0.1},{"L":13,"k":1,"o":64,"v":0.06},{"L":13,"k":1,"o":128,"v":0.05},{"L":13,"k":1,"o":256,"v":0.03},
{"L":13,"k":2,"o":2,"v":0.9},{"L":13,"k":2,"o":8,"v":0.78},{"L":13,"k":2,"o":32,"v":0.41},{"L":13,"k":2,"o":64,"v":0.12},{"L":13,"k":2,"o":128,"v":0.1},{"L":13,"k":2,"o":256,"v":0.04},
{"L":13,"k":3,"o":2,"v":0.72},{"L":13,"k":3,"o":8,"v":0.7},{"L":13,"k":3,"o":32,"v":0.35},{"L":13,"k":3,"o":64,"v":0.1},{"L":13,"k":3,"o":128,"v":0.08},{"L":13,"k":3,"o":256,"v":0.03},
{"L":13,"k":4,"o":2,"v":0.44},{"L":13,"k":4,"o":8,"v":0.61},{"L":13,"k":4,"o":32,"v":0.4},{"L":13,"k":4,"o":64,"v":0.157},{"L":13,"k":4,"o":128,"v":0.134},{"L":13,"k":4,"o":256,"v":0.047},
{"L":13,"k":5,"o":2,"v":0.32},{"L":13,"k":5,"o":8,"v":0.12},{"L":13,"k":5,"o":32,"v":0.13},{"L":13,"k":5,"o":64,"v":0.13},{"L":13,"k":5,"o":128,"v":0.12},{"L":13,"k":5,"o":256,"v":0.04},
{"L":13,"k":6,"o":2,"v":0.15},{"L":13,"k":6,"o":8,"v":0.25},{"L":13,"k":6,"o":32,"v":0.08},{"L":13,"k":6,"o":64,"v":0.05},{"L":13,"k":6,"o":128,"v":0.04},{"L":13,"k":6,"o":256,"v":0.03},
{"L":13,"k":7,"o":2,"v":0.12},{"L":13,"k":7,"o":8,"v":0.1},{"L":13,"k":7,"o":32,"v":0.06},{"L":13,"k":7,"o":64,"v":0.04},{"L":13,"k":7,"o":128,"v":0.03},{"L":13,"k":7,"o":256,"v":0.02},
{"L":13,"k":8,"o":2,"v":0.05},{"L":13,"k":8,"o":8,"v":0.04},{"L":13,"k":8,"o":32,"v":0.03},{"L":13,"k":8,"o":64,"v":0.02},{"L":13,"k":8,"o":128,"v":0.02},{"L":13,"k":8,"o":256,"v":0.01},

{"L":14,"k":0,"o":2,"v":1,"v2":0.01},{"L":14,"k":0,"o":8,"v":1,"v2":0.01},{"L":14,"k":0,"o":32,"v":0.2,"v2":0.01},{"L":14,"k":0,"o":64,"v":0.087,"v2":0.01},{"L":14,"k":0,"o":128,"v":0.08,"v2":0.01},{"L":14,"k":0,"o":256,"v":0.08,"v2":0.01},
{"L":14,"k":-1,"o":2,"v":0.3},{"L":14,"k":-1,"o":8,"v":0.28},{"L":14,"k":-1,"o":32,"v":0.055},{"L":14,"k":-1,"o":64,"v":0.044},{"L":14,"k":-1,"o":128,"v":0.04},{"L":14,"k":-1,"o":256,"v":0.04},
{"L":14,"k":1,"o":2,"v":1},{"L":14,"k":1,"o":8,"v":1},{"L":14,"k":1,"o":32,"v":0.19},{"L":14,"k":1,"o":64,"v":0.08},{"L":14,"k":1,"o":128,"v":0.07},{"L":14,"k":1,"o":256,"v":0.07},
{"L":14,"k":2,"o":2,"v":0.82},{"L":14,"k":2,"o":8,"v":0.77},{"L":14,"k":2,"o":32,"v":0.15},{"L":14,"k":2,"o":64,"v":0.07},{"L":14,"k":2,"o":128,"v":0.06},{"L":14,"k":2,"o":256,"v":0.06},
{"L":14,"k":3,"o":2,"v":0.43},{"L":14,"k":3,"o":8,"v":0.46},{"L":14,"k":3,"o":32,"v":0.12},{"L":14,"k":3,"o":64,"v":0.06},{"L":14,"k":3,"o":128,"v":0.05},{"L":14,"k":3,"o":256,"v":0.05},
{"L":14,"k":4,"o":2,"v":0.33},{"L":14,"k":4,"o":8,"v":0.33},{"L":14,"k":4,"o":32,"v":0.2},{"L":14,"k":4,"o":64,"v":0.05},{"L":14,"k":4,"o":128,"v":0.04},{"L":14,"k":4,"o":256,"v":0.04},
{"L":14,"k":5,"o":2,"v":0.3},{"L":14,"k":5,"o":8,"v":0.13},{"L":14,"k":5,"o":32,"v":0.06},{"L":14,"k":5,"o":64,"v":0.04},{"L":14,"k":5,"o":128,"v":0.04},{"L":14,"k":5,"o":256,"v":0.04},
{"L":14,"k":6,"o":2,"v":0.17},{"L":14,"k":6,"o":8,"v":0.23},{"L":14,"k":6,"o":32,"v":0.15},{"L":14,"k":6,"o":64,"v":0.04},{"L":14,"k":6,"o":128,"v":0.03},{"L":14,"k":6,"o":256,"v":0.03},
{"L":14,"k":7,"o":2,"v":0.08},{"L":14,"k":7,"o":8,"v":0.07},{"L":14,"k":7,"o":32,"v":0.04},{"L":14,"k":7,"o":64,"v":0.03},{"L":14,"k":7,"o":128,"v":0.03},{"L":14,"k":7,"o":256,"v":0.03},
{"L":14,"k":8,"o":2,"v":0.04},{"L":14,"k":8,"o":8,"v":0.03},{"L":14,"k":8,"o":32,"v":0.02},{"L":14,"k":8,"o":64,"v":0.02},{"L":14,"k":8,"o":128,"v":0.02},{"L":14,"k":8,"o":256,"v":0.02},

{"L":15,"k":0,"o":2,"v":1,"v2":0.01},{"L":15,"k":0,"o":8,"v":1,"v2":0.01},{"L":15,"k":0,"o":32,"v":0.15,"v2":0.01},{"L":15,"k":0,"o":64,"v":0.08,"v2":0.01},{"L":15,"k":0,"o":128,"v":0.06,"v2":0.01},{"L":15,"k":0,"o":256,"v":0.04,"v2":0.01},
{"L":15,"k":-1,"o":2,"v":0.297},{"L":15,"k":-1,"o":8,"v":0.262},{"L":15,"k":-1,"o":32,"v":0.05},{"L":15,"k":-1,"o":64,"v":0.035},{"L":15,"k":-1,"o":128,"v":0.023},{"L":15,"k":-1,"o":256,"v":0.023},
{"L":15,"k":1,"o":2,"v":1},{"L":15,"k":1,"o":8,"v":1},{"L":15,"k":1,"o":32,"v":0.15},{"L":15,"k":1,"o":64,"v":0.08},{"L":15,"k":1,"o":128,"v":0.06},{"L":15,"k":1,"o":256,"v":0.04},
{"L":15,"k":2,"o":2,"v":0.68},{"L":15,"k":2,"o":8,"v":0.68},{"L":15,"k":2,"o":32,"v":0.12},{"L":15,"k":2,"o":64,"v":0.06},{"L":15,"k":2,"o":128,"v":0.05},{"L":15,"k":2,"o":256,"v":0.03},
{"L":15,"k":3,"o":2,"v":0.62},{"L":15,"k":3,"o":8,"v":0.57},{"L":15,"k":3,"o":32,"v":0.1},{"L":15,"k":3,"o":64,"v":0.05},{"L":15,"k":3,"o":128,"v":0.04},{"L":15,"k":3,"o":256,"v":0.03},
{"L":15,"k":4,"o":2,"v":0.37},{"L":15,"k":4,"o":8,"v":0.04},{"L":15,"k":4,"o":32,"v":0.03},{"L":15,"k":4,"o":64,"v":0.02},{"L":15,"k":4,"o":128,"v":0.02},{"L":15,"k":4,"o":256,"v":0.02},
{"L":15,"k":5,"o":2,"v":0.25},{"L":15,"k":5,"o":8,"v":0.28},{"L":15,"k":5,"o":32,"v":0.08},{"L":15,"k":5,"o":64,"v":0.04},{"L":15,"k":5,"o":128,"v":0.03},{"L":15,"k":5,"o":256,"v":0.02},
{"L":15,"k":6,"o":2,"v":0.2},{"L":15,"k":6,"o":8,"v":0.17},{"L":15,"k":6,"o":32,"v":0.05},{"L":15,"k":6,"o":64,"v":0.03},{"L":15,"k":6,"o":128,"v":0.02},{"L":15,"k":6,"o":256,"v":0.02},
{"L":15,"k":7,"o":2,"v":0.08},{"L":15,"k":7,"o":8,"v":0.06},{"L":15,"k":7,"o":32,"v":0.03},{"L":15,"k":7,"o":64,"v":0.02},{"L":15,"k":7,"o":128,"v":0.01},{"L":15,"k":7,"o":256,"v":0.01},
{"L":15,"k":8,"o":2,"v":0.03},{"L":15,"k":8,"o":8,"v":0.03},{"L":15,"k":8,"o":32,"v":0.02},{"L":15,"k":8,"o":64,"v":0.01},{"L":15,"k":8,"o":128,"v":0.01},{"L":15,"k":8,"o":256,"v":0.01},

{"L":16,"k":0,"o":2,"v":1,"v2":0.01},{"L":16,"k":0,"o":8,"v":0.65,"v2":0.01},{"L":16,"k":0,"o":32,"v":0.15,"v2":0.01},{"L":16,"k":0,"o":64,"v":0.1,"v2":0.01},{"L":16,"k":0,"o":128,"v":0.06,"v2":0.01},{"L":16,"k":0,"o":256,"v":0.05,"v2":0.01},
{"L":16,"k":-1,"o":2,"v":0.32},{"L":16,"k":-1,"o":8,"v":0.13},{"L":16,"k":-1,"o":32,"v":0.06},{"L":16,"k":-1,"o":64,"v":0.04},{"L":16,"k":-1,"o":128,"v":0.04},{"L":16,"k":-1,"o":256,"v":0.03},
{"L":16,"k":1,"o":2,"v":1},{"L":16,"k":1,"o":8,"v":0.45},{"L":16,"k":1,"o":32,"v":0.1},{"L":16,"k":1,"o":64,"v":0.05},{"L":16,"k":1,"o":128,"v":0.04},{"L":16,"k":1,"o":256,"v":0.03},
{"L":16,"k":2,"o":2,"v":0.9},{"L":16,"k":2,"o":8,"v":0.65},{"L":16,"k":2,"o":32,"v":0.15},{"L":16,"k":2,"o":64,"v":0.08},{"L":16,"k":2,"o":128,"v":0.05},{"L":16,"k":2,"o":256,"v":0.04},
{"L":16,"k":3,"o":2,"v":0.75},{"L":16,"k":3,"o":8,"v":0.55},{"L":16,"k":3,"o":32,"v":0.1},{"L":16,"k":3,"o":64,"v":0.06},{"L":16,"k":3,"o":128,"v":0.05},{"L":16,"k":3,"o":256,"v":0.04},
{"L":16,"k":4,"o":2,"v":0.6},{"L":16,"k":4,"o":8,"v":0.3},{"L":16,"k":4,"o":32,"v":0.08},{"L":16,"k":4,"o":64,"v":0.05},{"L":16,"k":4,"o":128,"v":0.04},{"L":16,"k":4,"o":256,"v":0.03},
{"L":16,"k":5,"o":2,"v":0.45},{"L":16,"k":5,"o":8,"v":0.1},{"L":16,"k":5,"o":32,"v":0.06},{"L":16,"k":5,"o":64,"v":0.05},{"L":16,"k":5,"o":128,"v":0.04},{"L":16,"k":5,"o":256,"v":0.03},
{"L":16,"k":6,"o":2,"v":0.3},{"L":16,"k":6,"o":8,"v":0.15},{"L":16,"k":6,"o":32,"v":0.12},{"L":16,"k":6,"o":64,"v":0.1},{"L":16,"k":6,"o":128,"v":0.06},{"L":16,"k":6,"o":256,"v":0.05},
{"L":16,"k":7,"o":2,"v":0.15},{"L":16,"k":7,"o":8,"v":0.08},{"L":16,"k":7,"o":32,"v":0.05},{"L":16,"k":7,"o":64,"v":0.04},{"L":16,"k":7,"o":128,"v":0.03},{"L":16,"k":7,"o":256,"v":0.02},
{"L":16,"k":8,"o":2,"v":0.05},{"L":16,"k":8,"o":8,"v":0.04},{"L":16,"k":8,"o":32,"v":0.03},{"L":16,"k":8,"o":64,"v":0.02},{"L":16,"k":8,"o":128,"v":0.02},{"L":16,"k":8,"o":256,"v":0.02},

{"L":17,"k":0,"o":2,"v":0.97,"v2":0.08},{"L":17,"k":0,"o":8,"v":1,"v2":0.06},{"L":17,"k":0,"o":32,"v":0.5,"v2":0.04},{"L":17,"k":0,"o":64,"v":0.3,"v2":0.03},{"L":17,"k":0,"o":128,"v":0.12,"v2":0.02},{"L":17,"k":0,"o":256,"v":0.08,"v2":0.01},
{"L":17,"k":-1,"o":2,"v":0.44},{"L":17,"k":-1,"o":8,"v":0.37},{"L":17,"k":-1,"o":32,"v":0.21},{"L":17,"k":-1,"o":64,"v":0.13},{"L":17,"k":-1,"o":128,"v":0.07},{"L":17,"k":-1,"o":256,"v":0.04},
{"L":17,"k":1,"o":2,"v":0.97},{"L":17,"k":1,"o":8,"v":1},{"L":17,"k":1,"o":32,"v":0.45},{"L":17,"k":1,"o":64,"v":0.25},{"L":17,"k":1,"o":128,"v":0.1},{"L":17,"k":1,"o":256,"v":0.06},
{"L":17,"k":2,"o":2,"v":0.6},{"L":17,"k":2,"o":8,"v":0.55},{"L":17,"k":2,"o":32,"v":0.45},{"L":17,"k":2,"o":64,"v":0.3},{"L":17,"k":2,"o":128,"v":0.12},{"L":17,"k":2,"o":256,"v":0.08},
{"L":17,"k":3,"o":2,"v":0.55},{"L":17,"k":3,"o":8,"v":0.5},{"L":17,"k":3,"o":32,"v":0.3},{"L":17,"k":3,"o":64,"v":0.2},{"L":17,"k":3,"o":128,"v":0.1},{"L":17,"k":3,"o":256,"v":0.06},
{"L":17,"k":4,"o":2,"v":0.5},{"L":17,"k":4,"o":8,"v":0.45},{"L":17,"k":4,"o":32,"v":0.35},{"L":17,"k":4,"o":64,"v":0.25},{"L":17,"k":4,"o":128,"v":0.12},{"L":17,"k":4,"o":256,"v":0.07},
{"L":17,"k":5,"o":2,"v":0.4},{"L":17,"k":5,"o":8,"v":0.35},{"L":17,"k":5,"o":32,"v":0.25},{"L":17,"k":5,"o":64,"v":0.15},{"L":17,"k":5,"o":128,"v":0.08},{"L":17,"k":5,"o":256,"v":0.05},
{"L":17,"k":6,"o":2,"v":0.3},{"L":17,"k":6,"o":8,"v":0.25},{"L":17,"k":6,"o":32,"v":0.05},{"L":17,"k":6,"o":64,"v":0.04},{"L":17,"k":6,"o":128,"v":0.03},{"L":17,"k":6,"o":256,"v":0.02},
{"L":17,"k":7,"o":2,"v":0.15},{"L":17,"k":7,"o":8,"v":0.1},{"L":17,"k":7,"o":32,"v":0.08},{"L":17,"k":7,"o":64,"v":0.05},{"L":17,"k":7,"o":128,"v":0.03},{"L":17,"k":7,"o":256,"v":0.02},
{"L":17,"k":8,"o":2,"v":0.1},{"L":17,"k":8,"o":8,"v":0.07},{"L":17,"k":8,"o":32,"v":0.05},{"L":17,"k":8,"o":64,"v":0.04},{"L":17,"k":8,"o":128,"v":0.02},{"L":17,"k":8,"o":256,"v":0.02}
]},
"columns": 6,
"spacing": {"row": 58.2, "column": 41.8},
"bounds": "flush",
"resolve": {"scale": {"color": "independent"}, "legend": {"color": "independent"}},
"concat": [
{"title":"Layer 0","width":136,"height":120,"transform":[{"filter":"datum.L==0"}],
 "encoding":{"x":{"field":"o","type":"quantitative","scale":{"type":"log","base":2,"domain":[2,256],"nice":false},"axis":{"values":[2,16,128],"labelExpr":"datum.value==2?'2¹':datum.value==16?'2⁴':'2⁷'","title":null}},
  "y":{"field":"v","type":"quantitative","scale":{"domain":[0,1.05],"nice":false,"zero":false},"axis":{"values":[0,0.5,1],"format":".1f","title":"Normalized ℓ∞ Error"}}},
 "layer":[
  {"transform":[{"filter":"datum.k==0"}],"mark":{"type":"area","color":"#ffd27f","opacity":1},"encoding":{"y2":{"field":"v2"}}},
  {"transform":[{"filter":"datum.k>0"}],"mark":{"type":"line","color":"black","opacity":0.3,"strokeWidth":2},"encoding":{"detail":{"field":"k","type":"nominal"}}},
  {"transform":[{"filter":"datum.k<0"}],"mark":{"type":"line","strokeWidth":1.5,"point":{"filled":true,"size":30}},
   "encoding":{"color":{"datum":"Mean","scale":{"range":["black"]},"legend":{"title":null,"orient":"top-right","offset":8,"symbolType":"M-1,0H3M1.42,0A0.42,0.42,0,1,1,0.58,0A0.42,0.42,0,1,1,1.42,0","symbolSize":196,"symbolStrokeWidth":1.5,"symbolFillColor":"black","symbolStrokeColor":"black","labelFont":"Liberation Sans","labelFontSize":12,"labelColor":"black","labelOffset":20,"strokeColor":"#cccccc","fillColor":"white","padding":5,"cornerRadius":3}}}}
 ]},
{"title":"Layer 1","width":136,"height":120,"transform":[{"filter":"datum.L==1"}],
 "encoding":{"x":{"field":"o","type":"quantitative","scale":{"type":"log","base":2,"domain":[2,256],"nice":false},"axis":{"values":[2,16,128],"labelExpr":"datum.value==2?'2¹':datum.value==16?'2⁴':'2⁷'","title":null}},
  "y":{"field":"v","type":"quantitative","scale":{"domain":[0,1.05],"nice":false,"zero":false},"axis":{"values":[0,0.5,1],"format":".1f","title":null}}},
 "layer":[
  {"transform":[{"filter":"datum.k==0"}],"mark":{"type":"area","color":"#ffd27f","opacity":1},"encoding":{"y2":{"field":"v2"}}},
  {"transform":[{"filter":"datum.k>0"}],"mark":{"type":"line","color":"black","opacity":0.3,"strokeWidth":2},"encoding":{"detail":{"field":"k","type":"nominal"}}},
  {"transform":[{"filter":"datum.k<0"}],"mark":{"type":"line","color":"black","strokeWidth":1.5,"point":{"filled":true,"size":30,"color":"black"}}}
 ]},
{"title":"Layer 2","width":136,"height":120,"transform":[{"filter":"datum.L==2"}],
 "encoding":{"x":{"field":"o","type":"quantitative","scale":{"type":"log","base":2,"domain":[2,256],"nice":false},"axis":{"values":[2,16,128],"labelExpr":"datum.value==2?'2¹':datum.value==16?'2⁴':'2⁷'","title":null}},
  "y":{"field":"v","type":"quantitative","scale":{"domain":[0,1.05],"nice":false,"zero":false},"axis":{"values":[0,0.5,1],"format":".1f","title":null}}},
 "layer":[
  {"transform":[{"filter":"datum.k==0"}],"mark":{"type":"area","color":"#ffd27f","opacity":1},"encoding":{"y2":{"field":"v2"}}},
  {"transform":[{"filter":"datum.k>0"}],"mark":{"type":"line","color":"black","opacity":0.3,"strokeWidth":2},"encoding":{"detail":{"field":"k","type":"nominal"}}},
  {"transform":[{"filter":"datum.k<0"}],"mark":{"type":"line","color":"black","strokeWidth":1.5,"point":{"filled":true,"size":30,"color":"black"}}}
 ]},
{"title":"Layer 3","width":136,"height":120,"transform":[{"filter":"datum.L==3"}],
 "encoding":{"x":{"field":"o","type":"quantitative","scale":{"type":"log","base":2,"domain":[2,256],"nice":false},"axis":{"values":[2,16,128],"labelExpr":"datum.value==2?'2¹':datum.value==16?'2⁴':'2⁷'","title":null}},
  "y":{"field":"v","type":"quantitative","scale":{"domain":[0,1.05],"nice":false,"zero":false},"axis":{"values":[0,0.5,1],"format":".1f","title":null}}},
 "layer":[
  {"transform":[{"filter":"datum.k==0"}],"mark":{"type":"area","color":"#ffd27f","opacity":1},"encoding":{"y2":{"field":"v2"}}},
  {"transform":[{"filter":"datum.k>0"}],"mark":{"type":"line","color":"black","opacity":0.3,"strokeWidth":2},"encoding":{"detail":{"field":"k","type":"nominal"}}},
  {"transform":[{"filter":"datum.k<0"}],"mark":{"type":"line","color":"black","strokeWidth":1.5,"point":{"filled":true,"size":30,"color":"black"}}}
 ]},
{"title":"Layer 4","width":136,"height":120,"transform":[{"filter":"datum.L==4"}],
 "encoding":{"x":{"field":"o","type":"quantitative","scale":{"type":"log","base":2,"domain":[2,256],"nice":false},"axis":{"values":[2,16,128],"labelExpr":"datum.value==2?'2¹':datum.value==16?'2⁴':'2⁷'","title":null}},
  "y":{"field":"v","type":"quantitative","scale":{"domain":[0,1.05],"nice":false,"zero":false},"axis":{"values":[0,0.5,1],"format":".1f","title":null}}},
 "layer":[
  {"transform":[{"filter":"datum.k==0"}],"mark":{"type":"area","color":"#ffd27f","opacity":1},"encoding":{"y2":{"field":"v2"}}},
  {"transform":[{"filter":"datum.k>0"}],"mark":{"type":"line","color":"black","opacity":0.3,"strokeWidth":2},"encoding":{"detail":{"field":"k","type":"nominal"}}},
  {"transform":[{"filter":"datum.k<0"}],"mark":{"type":"line","color":"black","strokeWidth":1.5,"point":{"filled":true,"size":30,"color":"black"}}}
 ]},
{"title":"Layer 5","width":136,"height":120,"transform":[{"filter":"datum.L==5"}],
 "encoding":{"x":{"field":"o","type":"quantitative","scale":{"type":"log","base":2,"domain":[2,256],"nice":false},"axis":{"values":[2,16,128],"labelExpr":"datum.value==2?'2¹':datum.value==16?'2⁴':'2⁷'","title":null}},
  "y":{"field":"v","type":"quantitative","scale":{"domain":[0,1.05],"nice":false,"zero":false},"axis":{"values":[0,0.5,1],"format":".1f","title":null}}},
 "layer":[
  {"transform":[{"filter":"datum.k==0"}],"mark":{"type":"area","color":"#ffd27f","opacity":1},"encoding":{"y2":{"field":"v2"}}},
  {"transform":[{"filter":"datum.k>0"}],"mark":{"type":"line","color":"black","opacity":0.3,"strokeWidth":2},"encoding":{"detail":{"field":"k","type":"nominal"}}},
  {"transform":[{"filter":"datum.k<0"}],"mark":{"type":"line","color":"black","strokeWidth":1.5,"point":{"filled":true,"size":30,"color":"black"}}}
 ]},
{"title":"Layer 6","width":136,"height":120,"transform":[{"filter":"datum.L==6"}],
 "encoding":{"x":{"field":"o","type":"quantitative","scale":{"type":"log","base":2,"domain":[2,256],"nice":false},"axis":{"values":[2,16,128],"labelExpr":"datum.value==2?'2¹':datum.value==16?'2⁴':'2⁷'","title":null}},
  "y":{"field":"v","type":"quantitative","scale":{"domain":[0,1.05],"nice":false,"zero":false},"axis":{"values":[0,0.5,1],"format":".1f","title":"Normalized ℓ∞ Error"}}},
 "layer":[
  {"transform":[{"filter":"datum.k==0"}],"mark":{"type":"area","color":"#ffd27f","opacity":1},"encoding":{"y2":{"field":"v2"}}},
  {"transform":[{"filter":"datum.k>0"}],"mark":{"type":"line","color":"black","opacity":0.3,"strokeWidth":2},"encoding":{"detail":{"field":"k","type":"nominal"}}},
  {"transform":[{"filter":"datum.k<0"}],"mark":{"type":"line","color":"black","strokeWidth":1.5,"point":{"filled":true,"size":30,"color":"black"}}}
 ]},
{"title":"Layer 7","width":136,"height":120,"transform":[{"filter":"datum.L==7"}],
 "encoding":{"x":{"field":"o","type":"quantitative","scale":{"type":"log","base":2,"domain":[2,256],"nice":false},"axis":{"values":[2,16,128],"labelExpr":"datum.value==2?'2¹':datum.value==16?'2⁴':'2⁷'","title":null}},
  "y":{"field":"v","type":"quantitative","scale":{"domain":[0,1.05],"nice":false,"zero":false},"axis":{"values":[0,0.5,1],"format":".1f","title":null}}},
 "layer":[
  {"transform":[{"filter":"datum.k==0"}],"mark":{"type":"area","color":"#ffd27f","opacity":1},"encoding":{"y2":{"field":"v2"}}},
  {"transform":[{"filter":"datum.k>0"}],"mark":{"type":"line","color":"black","opacity":0.3,"strokeWidth":2},"encoding":{"detail":{"field":"k","type":"nominal"}}},
  {"transform":[{"filter":"datum.k<0"}],"mark":{"type":"line","color":"black","strokeWidth":1.5,"point":{"filled":true,"size":30,"color":"black"}}}
 ]},
{"title":"Layer 8","width":136,"height":120,"transform":[{"filter":"datum.L==8"}],
 "encoding":{"x":{"field":"o","type":"quantitative","scale":{"type":"log","base":2,"domain":[2,256],"nice":false},"axis":{"values":[2,16,128],"labelExpr":"datum.value==2?'2¹':datum.value==16?'2⁴':'2⁷'","title":null}},
  "y":{"field":"v","type":"quantitative","scale":{"domain":[0,1.05],"nice":false,"zero":false},"axis":{"values":[0,0.5,1],"format":".1f","title":null}}},
 "layer":[
  {"transform":[{"filter":"datum.k==0"}],"mark":{"type":"area","color":"#ffd27f","opacity":1},"encoding":{"y2":{"field":"v2"}}},
  {"transform":[{"filter":"datum.k>0"}],"mark":{"type":"line","color":"black","opacity":0.3,"strokeWidth":2},"encoding":{"detail":{"field":"k","type":"nominal"}}},
  {"transform":[{"filter":"datum.k<0"}],"mark":{"type":"line","color":"black","strokeWidth":1.5,"point":{"filled":true,"size":30,"color":"black"}}}
 ]},
{"title":"Layer 9","width":136,"height":120,"transform":[{"filter":"datum.L==9"}],
 "encoding":{"x":{"field":"o","type":"quantitative","scale":{"type":"log","base":2,"domain":[2,256],"nice":false},"axis":{"values":[2,16,128],"labelExpr":"datum.value==2?'2¹':datum.value==16?'2⁴':'2⁷'","title":null}},
  "y":{"field":"v","type":"quantitative","scale":{"domain":[0,1.05],"nice":false,"zero":false},"axis":{"values":[0,0.5,1],"format":".1f","title":null}}},
 "layer":[
  {"transform":[{"filter":"datum.k==0"}],"mark":{"type":"area","color":"#ffd27f","opacity":1},"encoding":{"y2":{"field":"v2"}}},
  {"transform":[{"filter":"datum.k>0"}],"mark":{"type":"line","color":"black","opacity":0.3,"strokeWidth":2},"encoding":{"detail":{"field":"k","type":"nominal"}}},
  {"transform":[{"filter":"datum.k<0"}],"mark":{"type":"line","color":"black","strokeWidth":1.5,"point":{"filled":true,"size":30,"color":"black"}}}
 ]},
{"title":"Layer 10","width":136,"height":120,"transform":[{"filter":"datum.L==10"}],
 "encoding":{"x":{"field":"o","type":"quantitative","scale":{"type":"log","base":2,"domain":[2,256],"nice":false},"axis":{"values":[2,16,128],"labelExpr":"datum.value==2?'2¹':datum.value==16?'2⁴':'2⁷'","title":null}},
  "y":{"field":"v","type":"quantitative","scale":{"domain":[0,1.05],"nice":false,"zero":false},"axis":{"values":[0,0.5,1],"format":".1f","title":null}}},
 "layer":[
  {"transform":[{"filter":"datum.k==0"}],"mark":{"type":"area","color":"#ffd27f","opacity":1},"encoding":{"y2":{"field":"v2"}}},
  {"transform":[{"filter":"datum.k>0"}],"mark":{"type":"line","color":"black","opacity":0.3,"strokeWidth":2},"encoding":{"detail":{"field":"k","type":"nominal"}}},
  {"transform":[{"filter":"datum.k<0"}],"mark":{"type":"line","color":"black","strokeWidth":1.5,"point":{"filled":true,"size":30,"color":"black"}}}
 ]},
{"title":"Layer 11","width":136,"height":120,"transform":[{"filter":"datum.L==11"}],
 "encoding":{"x":{"field":"o","type":"quantitative","scale":{"type":"log","base":2,"domain":[2,256],"nice":false},"axis":{"values":[2,16,128],"labelExpr":"datum.value==2?'2¹':datum.value==16?'2⁴':'2⁷'","title":null}},
  "y":{"field":"v","type":"quantitative","scale":{"domain":[0,1.05],"nice":false,"zero":false},"axis":{"values":[0,0.5,1],"format":".1f","title":null}}},
 "layer":[
  {"transform":[{"filter":"datum.k==0"}],"mark":{"type":"area","color":"#ffd27f","opacity":1},"encoding":{"y2":{"field":"v2"}}},
  {"transform":[{"filter":"datum.k>0"}],"mark":{"type":"line","color":"black","opacity":0.3,"strokeWidth":2},"encoding":{"detail":{"field":"k","type":"nominal"}}},
  {"transform":[{"filter":"datum.k<0"}],"mark":{"type":"line","color":"black","strokeWidth":1.5,"point":{"filled":true,"size":30,"color":"black"}}}
 ]},
{"title":"Layer 12","width":136,"height":120,"transform":[{"filter":"datum.L==12"}],
 "encoding":{"x":{"field":"o","type":"quantitative","scale":{"type":"log","base":2,"domain":[2,256],"nice":false},"axis":{"values":[2,16,128],"labelExpr":"datum.value==2?'2¹':datum.value==16?'2⁴':'2⁷'","title":"Order"}},
  "y":{"field":"v","type":"quantitative","scale":{"domain":[0,1.05],"nice":false,"zero":false},"axis":{"values":[0,0.5,1],"format":".1f","title":"Normalized ℓ∞ Error"}}},
 "layer":[
  {"transform":[{"filter":"datum.k==0"}],"mark":{"type":"area","color":"#ffd27f","opacity":1},"encoding":{"y2":{"field":"v2"}}},
  {"transform":[{"filter":"datum.k>0"}],"mark":{"type":"line","color":"black","opacity":0.3,"strokeWidth":2},"encoding":{"detail":{"field":"k","type":"nominal"}}},
  {"transform":[{"filter":"datum.k<0"}],"mark":{"type":"line","color":"black","strokeWidth":1.5,"point":{"filled":true,"size":30,"color":"black"}}}
 ]},
{"title":"Layer 13","width":136,"height":120,"transform":[{"filter":"datum.L==13"}],
 "encoding":{"x":{"field":"o","type":"quantitative","scale":{"type":"log","base":2,"domain":[2,256],"nice":false},"axis":{"values":[2,16,128],"labelExpr":"datum.value==2?'2¹':datum.value==16?'2⁴':'2⁷'","title":"Order"}},
  "y":{"field":"v","type":"quantitative","scale":{"domain":[0,1.05],"nice":false,"zero":false},"axis":{"values":[0,0.5,1],"format":".1f","title":null}}},
 "layer":[
  {"transform":[{"filter":"datum.k==0"}],"mark":{"type":"area","color":"#ffd27f","opacity":1},"encoding":{"y2":{"field":"v2"}}},
  {"transform":[{"filter":"datum.k>0"}],"mark":{"type":"line","color":"black","opacity":0.3,"strokeWidth":2},"encoding":{"detail":{"field":"k","type":"nominal"}}},
  {"transform":[{"filter":"datum.k<0"}],"mark":{"type":"line","color":"black","strokeWidth":1.5,"point":{"filled":true,"size":30,"color":"black"}}}
 ]},
{"title":"Layer 14","width":136,"height":120,"transform":[{"filter":"datum.L==14"}],
 "encoding":{"x":{"field":"o","type":"quantitative","scale":{"type":"log","base":2,"domain":[2,256],"nice":false},"axis":{"values":[2,16,128],"labelExpr":"datum.value==2?'2¹':datum.value==16?'2⁴':'2⁷'","title":"Order"}},
  "y":{"field":"v","type":"quantitative","scale":{"domain":[0,1.05],"nice":false,"zero":false},"axis":{"values":[0,0.5,1],"format":".1f","title":null}}},
 "layer":[
  {"transform":[{"filter":"datum.k==0"}],"mark":{"type":"area","color":"#ffd27f","opacity":1},"encoding":{"y2":{"field":"v2"}}},
  {"transform":[{"filter":"datum.k>0"}],"mark":{"type":"line","color":"black","opacity":0.3,"strokeWidth":2},"encoding":{"detail":{"field":"k","type":"nominal"}}},
  {"transform":[{"filter":"datum.k<0"}],"mark":{"type":"line","color":"black","strokeWidth":1.5,"point":{"filled":true,"size":30,"color":"black"}}}
 ]},
{"title":"Layer 15","width":136,"height":120,"transform":[{"filter":"datum.L==15"}],
 "encoding":{"x":{"field":"o","type":"quantitative","scale":{"type":"log","base":2,"domain":[2,256],"nice":false},"axis":{"values":[2,16,128],"labelExpr":"datum.value==2?'2¹':datum.value==16?'2⁴':'2⁷'","title":"Order"}},
  "y":{"field":"v","type":"quantitative","scale":{"domain":[0,1.05],"nice":false,"zero":false},"axis":{"values":[0,0.5,1],"format":".1f","title":null}}},
 "layer":[
  {"transform":[{"filter":"datum.k==0"}],"mark":{"type":"area","color":"#ffd27f","opacity":1},"encoding":{"y2":{"field":"v2"}}},
  {"transform":[{"filter":"datum.k>0"}],"mark":{"type":"line","color":"black","opacity":0.3,"strokeWidth":2},"encoding":{"detail":{"field":"k","type":"nominal"}}},
  {"transform":[{"filter":"datum.k<0"}],"mark":{"type":"line","color":"black","strokeWidth":1.5,"point":{"filled":true,"size":30,"color":"black"}}}
 ]},
{"title":"Layer 16","width":136,"height":120,"transform":[{"filter":"datum.L==16"}],
 "encoding":{"x":{"field":"o","type":"quantitative","scale":{"type":"log","base":2,"domain":[2,256],"nice":false},"axis":{"values":[2,16,128],"labelExpr":"datum.value==2?'2¹':datum.value==16?'2⁴':'2⁷'","title":"Order"}},
  "y":{"field":"v","type":"quantitative","scale":{"domain":[0,1.05],"nice":false,"zero":false},"axis":{"values":[0,0.5,1],"format":".1f","title":null}}},
 "layer":[
  {"transform":[{"filter":"datum.k==0"}],"mark":{"type":"area","color":"#ffd27f","opacity":1},"encoding":{"y2":{"field":"v2"}}},
  {"transform":[{"filter":"datum.k>0"}],"mark":{"type":"line","color":"black","opacity":0.3,"strokeWidth":2},"encoding":{"detail":{"field":"k","type":"nominal"}}},
  {"transform":[{"filter":"datum.k<0"}],"mark":{"type":"line","color":"black","strokeWidth":1.5,"point":{"filled":true,"size":30,"color":"black"}}}
 ]},
{"title":"Layer 17","width":136,"height":120,"transform":[{"filter":"datum.L==17"}],
 "encoding":{"x":{"field":"o","type":"quantitative","scale":{"type":"log","base":2,"domain":[2,256],"nice":false},"axis":{"values":[2,16,128],"labelExpr":"datum.value==2?'2¹':datum.value==16?'2⁴':'2⁷'","title":"Order"}},
  "y":{"field":"v","type":"quantitative","scale":{"domain":[0,1.05],"nice":false,"zero":false},"axis":{"values":[0,0.5,1],"format":".1f","title":null}}},
 "layer":[
  {"transform":[{"filter":"datum.k==0"}],"mark":{"type":"area","color":"#ffd27f","opacity":1},"encoding":{"y2":{"field":"v2"}}},
  {"transform":[{"filter":"datum.k>0"}],"mark":{"type":"line","color":"black","opacity":0.3,"strokeWidth":2},"encoding":{"detail":{"field":"k","type":"nominal"}}},
  {"transform":[{"filter":"datum.k<0"}],"mark":{"type":"line","color":"black","strokeWidth":1.5,"point":{"filled":true,"size":30,"color":"black"}}}
 ]}
],
"config": {
 "view": {"stroke": "black", "strokeWidth": 1},
 "axis": {"grid": false, "domainColor": "black", "tickColor": "black", "tickSize": 4, "labelColor": "black", "labelFont": "Liberation Serif", "labelFontSize": 13, "labelPadding": 2, "labelFlush": false, "titleFont": "Liberation Sans", "titleFontSize": 13, "titleFontWeight": "normal", "titleColor": "black", "titlePadding": 4},
 "title": {"font": "Liberation Sans", "fontSize": 13, "fontWeight": "normal", "color": "black", "offset": 5}
}
}
